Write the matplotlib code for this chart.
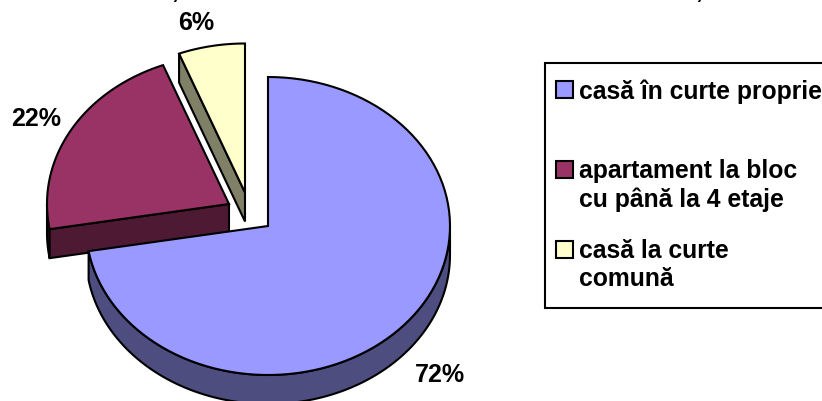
import numpy as np
import matplotlib.pyplot as plt
from matplotlib.patches import Polygon, Rectangle

plt.rcParams['font.family'] = ['Liberation Sans', 'DejaVu Sans']

shares = [72.3, 21.8, 5.9]
pct_labels = ['72%', '22%', '6%']
legend_labels = ['casă în curte proprie', 'apartament la bloc\ncu până la 4 etaje', 'casă la curte\ncomună']
top_colors = ['#9999FF', '#993366', '#FFFFCC']
side_colors = ['#4D4D80', '#4D1933', '#808066']

# pie geometry in pixels
centers = [(268, 227), (229, 205), (245, 193.5)]
label_pos = [(440, 375), (36, 119), (196, 23)]
legend_y = [90.5, 170.5, 250.5]
title_tails = [175, 699]
rx, ry, depth = 182, 149, 29
lw = 1.5


def ell(c, deg):
    a = np.radians(deg)
    return np.column_stack([c[0] + rx * np.sin(a), c[1] - ry * np.cos(a)])


fig = plt.figure(figsize=(8.22, 4.02), dpi=100)
ax = fig.add_axes([0, 0, 1, 1])
ax.set_xlim(0, 822)
ax.set_ylim(402, 0)
ax.axis('off')

edges = np.cumsum([0] + shares) * 3.6
down = np.array([0, depth])

# walls first, top faces over them
for i in [2, 1, 0]:
    a0, a1 = edges[i], edges[i + 1]
    c = np.array(centers[i])
    if i == 0:
        arc = ell(c, np.linspace(90, a1, 100))
        ax.add_patch(Polygon(np.vstack([arc, arc[::-1] + down]), fc=side_colors[i], ec='k', lw=lw))
    else:
        if a0 < 270:
            arc = ell(c, np.linspace(a0, 270, 20))
            ax.add_patch(Polygon(np.vstack([arc, arc[::-1] + down]), fc=side_colors[i], ec='k', lw=lw))
        p = ell(c, np.array([a0]))[0]
        ax.add_patch(Polygon([c, p, p + down, c + down], fc=side_colors[i], ec='k', lw=lw))
    top = np.vstack([[c], ell(c, np.linspace(a0, a1, 100))])
    ax.add_patch(Polygon(top, fc=top_colors[i], ec='k', lw=lw))
    ax.text(label_pos[i][0], label_pos[i][1], pct_labels[i], fontsize=18, fontweight='bold', ha='center', va='center')

# legend box runs off the right edge
ax.add_patch(Rectangle((545, 64), 300, 245, fc='white', ec='k', lw=lw))
for i in range(3):
    ax.add_patch(Rectangle((556, legend_y[i] - 8.5), 17, 17, fc=top_colors[i], ec='k', lw=lw))
    ax.text(579, legend_y[i] - 11, legend_labels[i], fontsize=17.8, fontweight='bold', ha='left', va='top', linespacing=1.2)

# tails of the cut-off title at the top edge
for x in title_tails:
    ax.text(x, -2.5, ',', fontsize=18, fontweight='bold', ha='center', va='baseline')

fig.savefig('out.png', dpi=100)
